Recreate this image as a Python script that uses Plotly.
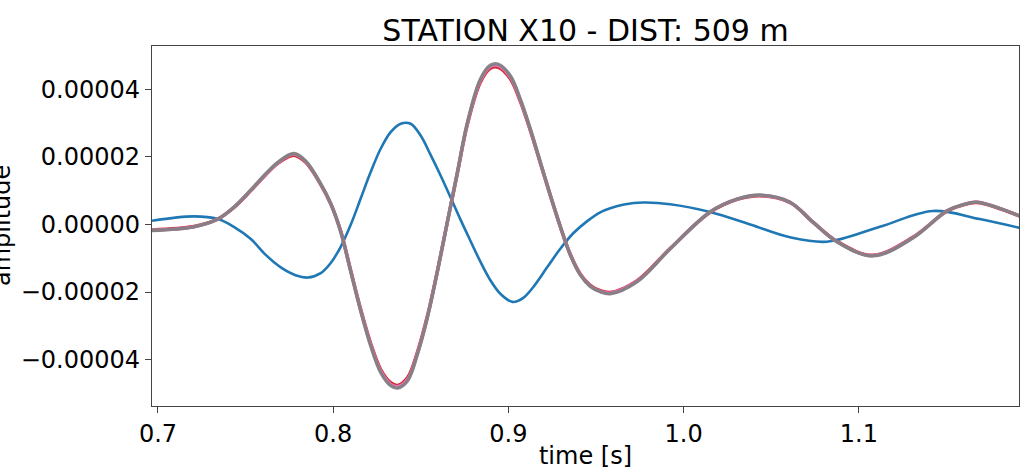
import plotly.graph_objects as go

# --- data (time in s, amplitude in units of 1e-5) ---
t_blue = [0.6966, 0.7205, 0.7342, 0.7433, 0.7530, 0.7615, 0.7701, 0.7785, 0.7855,
          0.7929, 0.7986, 0.8043, 0.8100, 0.8157, 0.8214, 0.8271, 0.8328, 0.8385,
          0.8442, 0.8499, 0.8556, 0.8613, 0.8670, 0.8726, 0.8783, 0.8840, 0.8897,
          0.8954, 0.9023, 0.9085, 0.9142, 0.9222, 0.9296, 0.9370, 0.9450, 0.9524,
          0.9581, 0.9660, 0.9769, 0.9923, 1.0151, 1.0380, 1.0607, 1.0818, 1.1120,
          1.1422, 1.1689, 1.1917]
a_blue = [0.11, 0.24, 0.16, -0.07, -0.43, -0.90, -1.27, -1.50, -1.57,
          -1.44, -1.14, -0.66, -0.01, 0.77, 1.55, 2.24, 2.73, 2.98,
          2.98, 2.63, 2.06, 1.45, 0.80, 0.15, -0.48, -1.10, -1.65,
          -2.05, -2.29, -2.17, -1.85, -1.26, -0.72, -0.26, 0.10, 0.36,
          0.48, 0.59, 0.65, 0.60, 0.37, 0.00, -0.38, -0.51, -0.07,
          0.40, 0.16, -0.10]

t_main = [0.6966, 0.7205, 0.7342, 0.7433, 0.7530, 0.7615, 0.7684, 0.7775, 0.7843,
          0.7929, 0.7986, 0.8043, 0.8100, 0.8157, 0.8214, 0.8271, 0.8328, 0.8368,
          0.8425, 0.8481, 0.8538, 0.8595, 0.8652, 0.8709, 0.8766, 0.8840, 0.8897,
          0.8943, 0.9011, 0.9068, 0.9125, 0.9182, 0.9239, 0.9296, 0.9353, 0.9410,
          0.9467, 0.9524, 0.9581, 0.9735, 0.9923, 1.0151, 1.0305, 1.0436, 1.0607,
          1.0738, 1.0875, 1.1080, 1.1308, 1.1501, 1.1590, 1.1672, 1.1917]
a_red = [-0.16, -0.06, 0.16, 0.50, 1.00, 1.47, 1.81, 2.05, 1.84,
         1.18, 0.61, -0.20, -1.36, -2.51, -3.52, -4.29, -4.68, -4.76,
         -4.53, -3.77, -2.70, -1.37, 0.08, 1.52, 2.96, 4.21, 4.62,
         4.65, 4.31, 3.64, 2.78, 1.82, 0.86, -0.06, -0.88, -1.46,
         -1.80, -1.96, -2.01, -1.66, -0.71, 0.36, 0.74, 0.85, 0.65,
         0.07, -0.50, -0.91, -0.38, 0.39, 0.57, 0.65, 0.25]
a_pink = [-0.17, -0.07, 0.16, 0.51, 1.01, 1.48, 1.82, 2.08, 1.86,
          1.19, 0.61, -0.21, -1.38, -2.54, -3.56, -4.34, -4.73, -4.80,
          -4.58, -3.81, -2.73, -1.38, 0.08, 1.54, 2.99, 4.26, 4.67,
          4.70, 4.36, 3.68, 2.81, 1.84, 0.87, -0.06, -0.89, -1.48,
          -1.82, -1.98, -2.03, -1.68, -0.72, 0.37, 0.75, 0.86, 0.66,
          0.07, -0.51, -0.92, -0.39, 0.40, 0.58, 0.66, 0.25]
a_gray = [-0.18, -0.07, 0.16, 0.51, 1.02, 1.50, 1.84, 2.10, 1.88,
          1.20, 0.62, -0.21, -1.39, -2.56, -3.59, -4.38, -4.77, -4.84,
          -4.62, -3.84, -2.75, -1.39, 0.08, 1.55, 3.02, 4.30, 4.71,
          4.74, 4.40, 3.71, 2.83, 1.85, 0.87, -0.06, -0.90, -1.49,
          -1.83, -1.99, -2.05, -1.69, -0.72, 0.37, 0.75, 0.87, 0.66,
          0.07, -0.51, -0.93, -0.40, 0.40, 0.58, 0.66, 0.25]

SCALE = 1e-5
x_ticks = [0.7, 0.8, 0.9, 1.0, 1.1]
y_ticks = [-0.00004, -0.00002, 0.0, 0.00002, 0.00004]

FONT = "DejaVu Sans"

fig = go.Figure()
fig.add_trace(go.Scatter(x=t_blue, y=[v * SCALE for v in a_blue], mode="lines",
                         line=dict(color="#1f77b4", width=2.6, shape="spline", smoothing=1.0)))
for arr, col, w in [(a_red, "#d62728", 3.4), (a_pink, "#e377c2", 3.4), (a_gray, "#7f7f7f", 3.4)]:
    fig.add_trace(go.Scatter(x=t_main, y=[v * SCALE for v in arr], mode="lines",
                             line=dict(color=col, width=w, shape="spline", smoothing=1.0),
                             opacity=0.9 if col == "#7f7f7f" else 1.0))

fig.update_layout(
    width=1024, height=470,
    margin=dict(l=152, r=4, t=46, b=62),
    paper_bgcolor="white", plot_bgcolor="white",
    showlegend=False,
    font=dict(family=FONT, size=24, color="#000000"),
    title=dict(text="STATION X10 - DIST: 509 m", font=dict(family=FONT, size=30, color="#000000"),
               x=0.5718, xanchor="center", y=1 - 30 / 470, yanchor="middle", yref="container"),
)
fig.update_xaxes(
    range=[0.6966, 1.1914], tickvals=x_ticks, ticktext=[f"{v:.1f}" for v in x_ticks],
    showgrid=False, zeroline=False, showline=True, mirror=True,
    linecolor="#444444", linewidth=1.2, ticks="outside", ticklen=6, tickcolor="#444444",
    tickfont=dict(family=FONT, size=24, color="#000000"),
    title=dict(text="time [s]", font=dict(family=FONT, size=24, color="#000000"), standoff=1),
)
fig.update_yaxes(
    range=[-5.37e-5, 5.28e-5], tickvals=y_ticks,
    ticktext=[("\u2212" if v < 0 else "") + f"{abs(v):.5f}" for v in y_ticks],
    showgrid=False, zeroline=False, showline=True, mirror=True,
    linecolor="#444444", linewidth=1.2, ticks="outside", ticklen=6, tickcolor="#444444",
    tickfont=dict(family=FONT, size=24, color="#000000"),
)
fig.add_annotation(text="amplitude", xref="paper", yref="paper", x=0, y=0.5,
                   xanchor="center", yanchor="middle", xshift=-150, textangle=-90,
                   showarrow=False, font=dict(family=FONT, size=24, color="#000000"))

fig.write_html("out.html")
